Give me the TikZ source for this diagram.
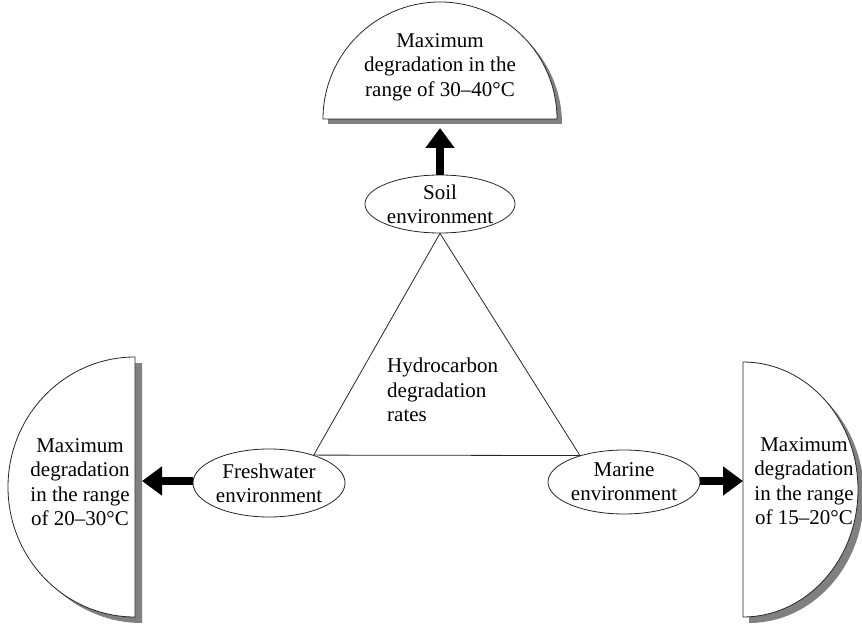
\documentclass[tikz,border=0pt]{standalone}
\usepackage{fontspec}
\setmainfont{Liberation Serif}
\usetikzlibrary{arrows.meta,shapes.geometric}

\tikzset{
  halfdisc/.style={draw=black!85, line width=0.8pt, fill=white},
  discshadow/.style={fill=black!50, draw=none},
  envnode/.style={ellipse, draw=black!85, line width=0.8pt, fill=white, inner sep=0pt,
                  align=center, font=\fontsize{21}{24}\selectfont},
  label/.style={align=center, font=\fontsize{21}{24.5}\selectfont, inner sep=0pt},
  bigarrow/.style={line width=8pt, -{Triangle[width=28pt,length=20pt]}},
  tri/.style={draw=black!85, line width=0.8pt}
}

\begin{document}
\begin{tikzpicture}[x=1pt,y=1pt]
\useasboundingbox (0,0) rectangle (862,624);

% upper half-disc (soil result)
\fill[discshadow] (328,500) arc[start angle=180, end angle=0, radius=117pt] -- cycle;
\draw[halfdisc] (323,505) arc[start angle=180, end angle=0, radius=117pt] -- cycle;
\node[label] (toptext) at (440,557) {Maximum\\degradation in the\\range of 30–40°C};

% left half-disc (freshwater result)
\fill[discshadow] (142,261) arc[start angle=90, end angle=270, x radius=127pt, y radius=130pt] -- cycle;
\draw[halfdisc] (135,267) arc[start angle=90, end angle=270, x radius=127pt, y radius=130pt] -- cycle;
\node[label] (lefttext) at (80,142) {Maximum\\degradation\\in the range\\of 20–30°C};

% right half-disc (marine result)
\fill[discshadow] (749,256) arc[start angle=90, end angle=-90, x radius=115pt, y radius=127.5pt] -- cycle;
\draw[halfdisc] (743,262) arc[start angle=90, end angle=-90, x radius=115pt, y radius=127.5pt] -- cycle;
\node[label] (righttext) at (804,143) {Maximum\\degradation\\in the range\\of 15–20°C};

% the three environments
\node[envnode, minimum width=140pt, minimum height=58pt] (soil) at (440,420) {Soil\\environment};
\node[envnode, minimum width=152pt, minimum height=68pt] (fresh) at (269,141) {Freshwater\\environment};
\node[envnode, minimum width=152pt, minimum height=64pt] (marine) at (624,142) {Marine\\environment};

% central triangle
\draw[tri] (soil.south) -- (fresh.32) -- (marine.149) -- cycle;
\node[label, align=left, anchor=west] (rates) at (387,234) {Hydrocarbon\\degradation\\rates};

% arrow end points at the half-discs
\coordinate (topend) at (440,496);
\coordinate (leftend) at (142,143);
\coordinate (rightend) at (743,143);

\draw[bigarrow] (soil.north) -- (topend);
\draw[bigarrow] (fresh.west |- leftend) -- (leftend);
\draw[bigarrow] (marine.east |- rightend) -- (rightend);
\end{tikzpicture}
\end{document}
